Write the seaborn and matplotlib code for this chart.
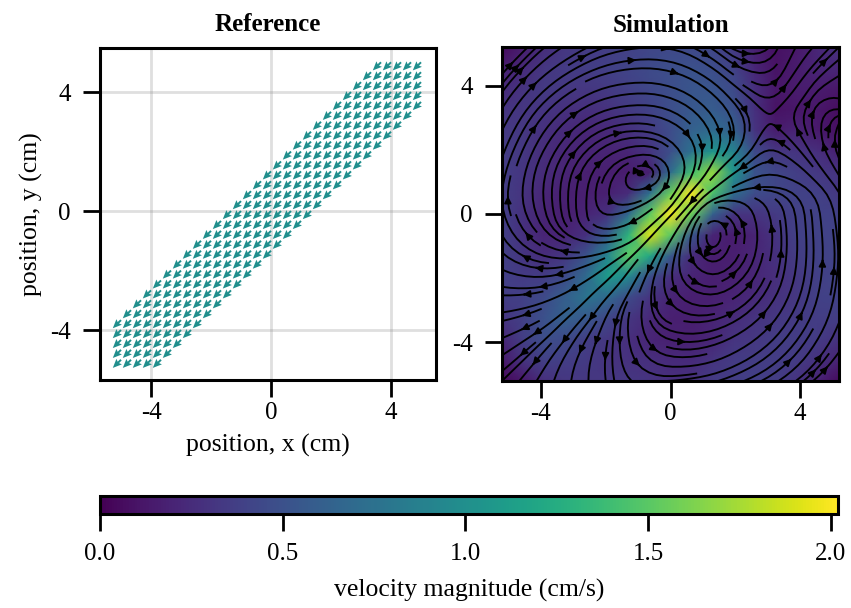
import numpy as np
import matplotlib
matplotlib.use("Agg")
import matplotlib.pyplot as plt
import seaborn as sns

# =========================================================
# DATA
# =========================================================

tick_values = [-4, 0, 4]
tick_labels = ["-4", "0", "4"]
cbar_ticks = [0.0, 0.5, 1.0, 1.5, 2.0]

# reference panel: uniform jet on a diagonal band
ref_axis = np.arange(-15, 16) / 3
ref_band_halfwidth = 1.4
ref_u = -0.71
ref_v = -0.71
ref_speed = 1.0

# simulation panel: speed in cm/s, rows from y = 5.2 down to y = -5.2
speed_extent = 5.2
speed_rows = [
    [.05, .16, .26, .32, .35, .37, .39, .42, .44, .44, .42, .34, .18, .08, .13, .22, .30],
    [.16, .24, .32, .35, .36, .38, .41, .45, .48, .50, .47, .40, .22, .10, .15, .22, .22],
    [.24, .30, .34, .33, .32, .34, .38, .43, .48, .53, .53, .45, .27, .12, .15, .15, .12],
    [.30, .32, .31, .28, .27, .29, .34, .40, .48, .55, .58, .50, .28, .10, .12, .12, .07],
    [.34, .33, .28, .24, .22, .23, .28, .35, .46, .62, .70, .62, .30, .15, .20, .14, .08],
    [.36, .33, .26, .22, .20, .20, .22, .30, .48, .75, 1.05, .90, .45, .32, .30, .27, .17],
    [.37, .31, .25, .20, .18, .17, .15, .18, .70, 1.40, 1.70, 1.05, .52, .42, .37, .33, .30],
    [.37, .30, .22, .18, .17, .18, .25, .72, 1.55, 2.00, 1.45, .72, .46, .42, .40, .38, .33],
    [.38, .28, .20, .17, .20, .28, .68, 1.50, 2.00, 1.55, .62, .30, .30, .34, .38, .40, .38],
    [.38, .28, .20, .20, .28, .58, 1.30, 1.90, 1.50, .55, .20, .15, .20, .30, .38, .40, .40],
    [.38, .31, .26, .32, .52, .92, 1.50, 1.20, .55, .25, .16, .17, .22, .28, .36, .40, .41],
    [.38, .35, .36, .45, .70, 1.10, .95, .47, .27, .20, .17, .18, .22, .27, .33, .38, .41],
    [.36, .38, .45, .60, .78, .68, .45, .30, .20, .17, .18, .20, .24, .29, .33, .38, .40],
    [.30, .38, .50, .62, .55, .42, .32, .23, .18, .17, .20, .25, .30, .33, .35, .36, .36],
    [.22, .37, .48, .45, .37, .32, .27, .21, .18, .18, .22, .30, .33, .36, .36, .35, .29],
    [.13, .30, .38, .37, .34, .30, .29, .27, .24, .24, .30, .35, .36, .36, .35, .29, .19],
    [.04, .13, .27, .32, .32, .32, .32, .30, .27, .29, .35, .36, .38, .36, .30, .19, .05],
]

# flow direction in degrees, rows from y = 5.2 down to y = -5.2
angle_rows = [
    [45, 45, 35, 28, 15, 5, -10, -30, -38, 10, 75, 50, 45],
    [50, 45, 35, 25, 12, 0, -15, -30, -40, -15, 60, 50, 35],
    [58, 50, 40, 28, 12, 0, -20, -40, -50, -45, 45, 60, -20],
    [65, 60, 50, 35, 15, -5, -30, -55, -80, -100, 135, 105, 70],
    [70, 68, 62, 50, 30, 5, -50, -95, 225, 220, 150, 125, 115],
    [80, 85, 85, 80, 75, 190, 245, 225, 215, 190, 170, 140, 125],
    [105, 110, 100, 95, 190, 215, 225, 232, 150, 110, 100, 95, 100],
    [125, 140, 155, 170, 190, 225, 240, 275, 75, 85, 90, 92, 95],
    [155, 170, 190, 205, 225, 240, 260, 320, 35, 65, 80, 85, 85],
    [180, 190, 205, 225, 230, 255, 300, 345, 25, 50, 65, 75, 80],
    [195, 205, 225, 232, 260, 280, 340, 5, 25, 40, 55, 62, 70],
    [212, 225, 235, 250, 270, 300, 350, 10, 25, 35, 45, 55, 55],
    [225, 235, 255, 270, 280, 340, 5, 10, 20, 25, 35, 40, 45],
]

# =========================================================
# STYLE
# =========================================================

sns.set_theme(style="ticks")
plt.rcParams["font.family"] = ["Liberation Serif", "DejaVu Serif"]
plt.rcParams["font.size"] = 18
plt.rcParams["axes.linewidth"] = 2.2
plt.rcParams["axes.edgecolor"] = "black"


def style_ticks(ax):
    ax.tick_params(direction="out", length=12, width=2, labelsize=18,
                   color="black", labelcolor="black")
    ax.tick_params(axis="x", pad=4)
    ax.tick_params(axis="y", pad=9)


W, H = 851, 608
fig = plt.figure(figsize=(W / 100, H / 100), dpi=100)
ax_ref = fig.add_axes([100 / W, 1 - 380 / H, 336 / W, 332 / H])
ax_sim = fig.add_axes([502 / W, 1 - 381 / H, 337 / W, 334 / H])
cax = fig.add_axes([100 / W, 1 - 514 / H, 738 / W, 18 / H])

cmap = sns.color_palette("viridis", as_cmap=True)
vmax = 2.02

# =========================================================
# REFERENCE PANEL
# =========================================================

xx, yy = np.meshgrid(ref_axis, ref_axis)
in_band = np.abs(xx - yy) <= ref_band_halfwidth

ax_ref.grid(True, color="gray", alpha=0.25, linewidth=2)
ax_ref.set_axisbelow(True)
ax_ref.quiver(
    xx[in_band], yy[in_band],
    np.full(in_band.sum(), ref_u), np.full(in_band.sum(), ref_v),
    color=cmap(ref_speed / vmax),
    angles="xy", scale_units="xy", scale=2.6,
    width=0.0058, headwidth=4.0, headlength=4.6, headaxislength=4.0
)
ax_ref.set_xlim(-5.7, 5.5)
ax_ref.set_ylim(-5.68, 5.48)
ax_ref.set_xticks(tick_values, tick_labels)
ax_ref.set_yticks(tick_values, tick_labels)
ax_ref.set_xlabel("position, x (cm)", fontsize=18.5, labelpad=7, color="black")
ax_ref.set_ylabel("position, y (cm)", fontsize=18.5, labelpad=5, color="black")
ax_ref.set_title("Reference", fontsize=18, fontweight="bold", pad=12, color="black")
style_ticks(ax_ref)

# =========================================================
# SIMULATION PANEL
# =========================================================

speed = np.array(speed_rows)[::-1]
last_index = speed.shape[0] - 1


def to_index(value):
    return (np.asarray(value) + speed_extent) / (2 * speed_extent) * last_index


sns.heatmap(
    speed,
    ax=ax_sim,
    cmap=cmap,
    vmin=0,
    vmax=vmax,
    shading="gouraud",
    cbar_ax=cax,
    cbar_kws={"orientation": "horizontal"},
    xticklabels=False,
    yticklabels=False
)

angle = np.radians(np.array(angle_rows)[::-1])
flow_axis = np.linspace(0, last_index, angle.shape[0])
ax_sim.streamplot(
    flow_axis, flow_axis,
    np.cos(angle), np.sin(angle),
    color="black",
    density=1.35,
    linewidth=1.35,
    arrowsize=1.0
)

ax_sim.set_xlim(0, last_index)
ax_sim.set_ylim(0, last_index)
ax_sim.set_xticks(to_index(tick_values), tick_labels, rotation=0)
ax_sim.set_yticks(to_index(tick_values), tick_labels, rotation=0)
ax_sim.set_title("Simulation", fontsize=18, fontweight="bold", pad=11, color="black")
ax_sim.set_aspect("auto")
for spine in ax_sim.spines.values():
    spine.set_visible(True)
    spine.set_linewidth(2.2)
    spine.set_color("black")
style_ticks(ax_sim)

# =========================================================
# COLORBAR
# =========================================================

cbar = ax_sim.collections[0].colorbar
cbar.outline.set_visible(True)
cbar.outline.set_linewidth(2.2)
cbar.outline.set_edgecolor("black")
cbar.set_ticks(cbar_ticks, labels=[f"{t:.1f}" for t in cbar_ticks])
cbar.set_label("velocity magnitude (cm/s)", fontsize=18.5, labelpad=10, color="black")
cax.tick_params(direction="out", length=12, width=2, pad=9, labelsize=18,
                color="black", labelcolor="black")

fig.savefig("out.png", dpi=100)
plt.close(fig)
